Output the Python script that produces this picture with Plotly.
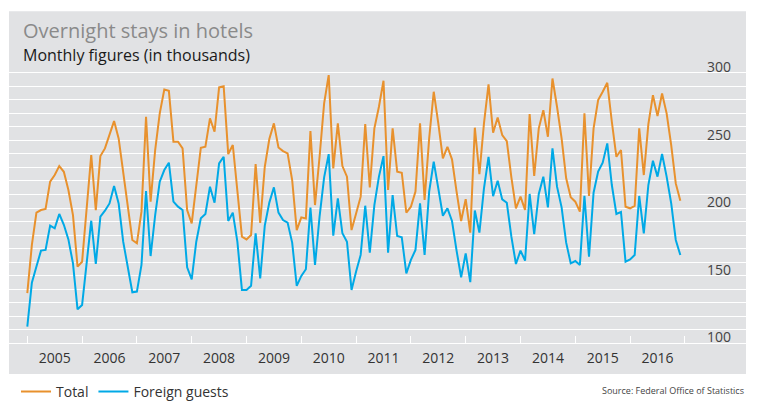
import plotly.graph_objects as go

years = list(range(2005, 2017))
months = list(range(12))

total = [
    137.0, 172.7, 196.6, 198.5, 199.3, 219.5, 224.4, 231.0, 226.8, 213.3, 194.8, 156.7,
    160.3, 198.5, 239.2, 198.5, 238.4, 244.1, 253.9, 264.3, 251.5, 225.6, 203.4, 176.4,
    173.9, 197.3, 267.5, 204.7, 242.9, 270.0, 287.7, 286.7, 249.0, 249.0, 244.1, 198.5,
    188.7, 215.8, 244.6, 245.3, 266.3, 256.4, 289.2, 290.1, 239.9, 246.6, 214.5, 178.8,
    176.8, 180.0, 232.5, 189.0, 230.5, 251.0, 262.6, 244.8, 242.1, 240.4, 220.7, 183.7,
    193.1, 192.3, 256.9, 202.2, 237.9, 277.4, 298.3, 229.3, 262.6, 231.0, 223.2, 183.7,
    196.0, 208.4, 262.1, 215.3, 258.9, 274.9, 294.1, 213.3, 258.9, 226.9, 226.1, 196.5,
    201.0, 212.1, 262.6, 205.9, 251.5, 286.0, 262.6, 236.7, 245.3, 236.0, 212.1, 190.4,
    206.6, 181.8, 259.4, 225.1, 262.6, 291.5, 255.7, 267.0, 254.0, 249.5, 222.7, 199.8,
    208.4, 198.5, 269.5, 223.7, 258.9, 272.4, 252.7, 295.8, 274.9, 251.5, 222.0, 207.9,
    204.7, 197.3, 270.0, 208.9, 258.9, 279.8, 286.0, 292.6, 263.8, 237.9, 242.9, 201.0,
    199.8, 201.5, 258.9, 224.4, 262.1, 283.5, 268.0, 284.7, 270.0, 246.6, 218.2, 205.4,
]

foreign = [
    112.3, 144.8, 156.7, 168.5, 169.0, 187.0, 185.0, 195.6, 187.6, 176.8, 159.1, 125.1,
    128.3, 158.6, 190.6, 158.6, 193.6, 198.0, 203.4, 216.3, 203.4, 175.1, 156.7, 137.7,
    138.2, 157.9, 212.6, 164.5, 194.8, 219.5, 228.1, 233.5, 204.7, 201.0, 198.5, 156.2,
    147.3, 175.1, 192.4, 195.6, 215.8, 203.9, 233.0, 237.9, 190.4, 196.6, 175.1, 139.4,
    139.4, 142.5, 181.3, 148.0, 187.0, 204.0, 215.3, 196.6, 191.1, 189.2, 174.4, 142.4,
    149.8, 154.7, 200.3, 157.9, 193.6, 222.7, 239.9, 179.6, 207.1, 181.3, 175.1, 139.4,
    153.0, 165.3, 201.7, 167.0, 202.2, 223.2, 238.4, 167.0, 209.6, 179.3, 178.3, 151.7,
    161.6, 169.0, 203.5, 165.3, 212.1, 234.3, 214.5, 194.3, 199.8, 190.4, 168.5, 148.8,
    166.5, 145.2, 198.2, 181.8, 214.5, 237.9, 208.7, 220.2, 206.4, 203.9, 178.8, 158.6,
    168.5, 161.1, 210.4, 180.6, 210.4, 223.2, 200.5, 244.1, 215.8, 200.5, 174.4, 159.1,
    160.8, 157.9, 209.1, 164.0, 211.3, 226.9, 233.5, 247.8, 217.0, 195.6, 197.1, 160.3,
    162.0, 165.3, 208.9, 181.3, 217.0, 235.0, 223.2, 239.9, 223.2, 203.5, 176.4, 165.3,
]

y_ticks = [100, 150, 200, 250, 300]
y_grid = list(range(100, 301, 10))
year_labels = [str(y) for y in years]

x = [y + m / 12 for y in years for m in months]

ORANGE = "#e8912d"
BLUE = "#00a9e6"
BG = "#e1e2e4"
FONT = "Open Sans"

W, H = 762, 401
Y_TOP_VAL = 325
Y_BOT_VAL = 95
PX_PER_UNIT = (343.3 - 72.7) / 200.0
L, R = 9, 746
AXIS_PX = 343.3                      # pixel row of the value 100 (x-axis baseline)
B = AXIS_PX + (100 - Y_BOT_VAL) * PX_PER_UNIT
T = 72.7 - (Y_TOP_VAL - 300) * PX_PER_UNIT
pw, ph = R - L, B - T


def py(p):
    return (B - p) / ph


def pxx(p):
    return (p - L) / pw


fig = go.Figure()
fig.add_trace(go.Scatter(x=x, y=total, mode="lines", name="Total",
                         line=dict(color=ORANGE, width=2)))
fig.add_trace(go.Scatter(x=x, y=foreign, mode="lines", name="Foreign guests",
                         line=dict(color=BLUE, width=2)))

fig.add_shape(type="rect", xref="paper", yref="paper",
              x0=0, x1=1, y0=py(374), y1=py(11),
              fillcolor=BG, line=dict(width=0), layer="below")

fig.add_annotation(text="Overnight stays in hotels",
                   xref="paper", yref="paper", x=pxx(21), y=py(30.5),
                   xanchor="left", yanchor="middle", showarrow=False,
                   font=dict(family=FONT, size=20, color="#8a8a8a"))
fig.add_annotation(text="Monthly figures (in thousands)",
                   xref="paper", yref="paper", x=pxx(21), y=py(55),
                   xanchor="left", yanchor="middle", showarrow=False,
                   font=dict(family=FONT, size=16, color="#1a1a1a"))
fig.add_annotation(text="Source: Federal Office of Statistics", xref="paper", yref="paper",
                   x=pxx(746), y=py(391), xanchor="right", yanchor="middle",
                   showarrow=False, font=dict(family=FONT, size=9, color="#444444"))

fig.update_layout(
    width=W, height=H,
    margin=dict(l=L, r=W - R, t=T, b=H - B, autoexpand=False),
    paper_bgcolor="white",
    plot_bgcolor="rgba(0,0,0,0)",
    font=dict(family=FONT, size=14, color="#333333"),
    showlegend=True,
    legend=dict(orientation="h", x=pxx(16), y=py(392), xanchor="left", yanchor="middle",
                bgcolor="rgba(0,0,0,0)", font=dict(family=FONT, size=14, color="#333333"),
                itemwidth=30, tracegroupgap=0),
    xaxis=dict(
        range=[2004.666, 2018.115],
        anchor="free", position=py(AXIS_PX),
        tickmode="array", tickvals=[y + 0.5 for y in years], ticktext=year_labels,
        ticks="", showgrid=False, zeroline=False, showline=False,
        ticklabelstandoff=5,
        minor=dict(tickmode="array", tickvals=years + [2017], ticks="inside",
                   ticklen=7, tickwidth=1.3, tickcolor="white", showgrid=False),
    ),
    yaxis=dict(
        range=[Y_BOT_VAL, Y_TOP_VAL], side="right",
        tickmode="array", tickvals=y_ticks, ticktext=[str(v) for v in y_ticks],
        ticklabelposition="inside top", ticks="",
        showgrid=True, gridcolor="white", gridwidth=1.3,
        zeroline=False, showline=False,
        minor=dict(tickmode="array", tickvals=y_grid, showgrid=True,
                   gridcolor="white", gridwidth=1.3),
        ticklabelstandoff=12, ticklabelshift=4,
    ),
)

fig.write_html("out.html", config={"displayModeBar": False},
               post_script="document.body.style.margin='0px';")
